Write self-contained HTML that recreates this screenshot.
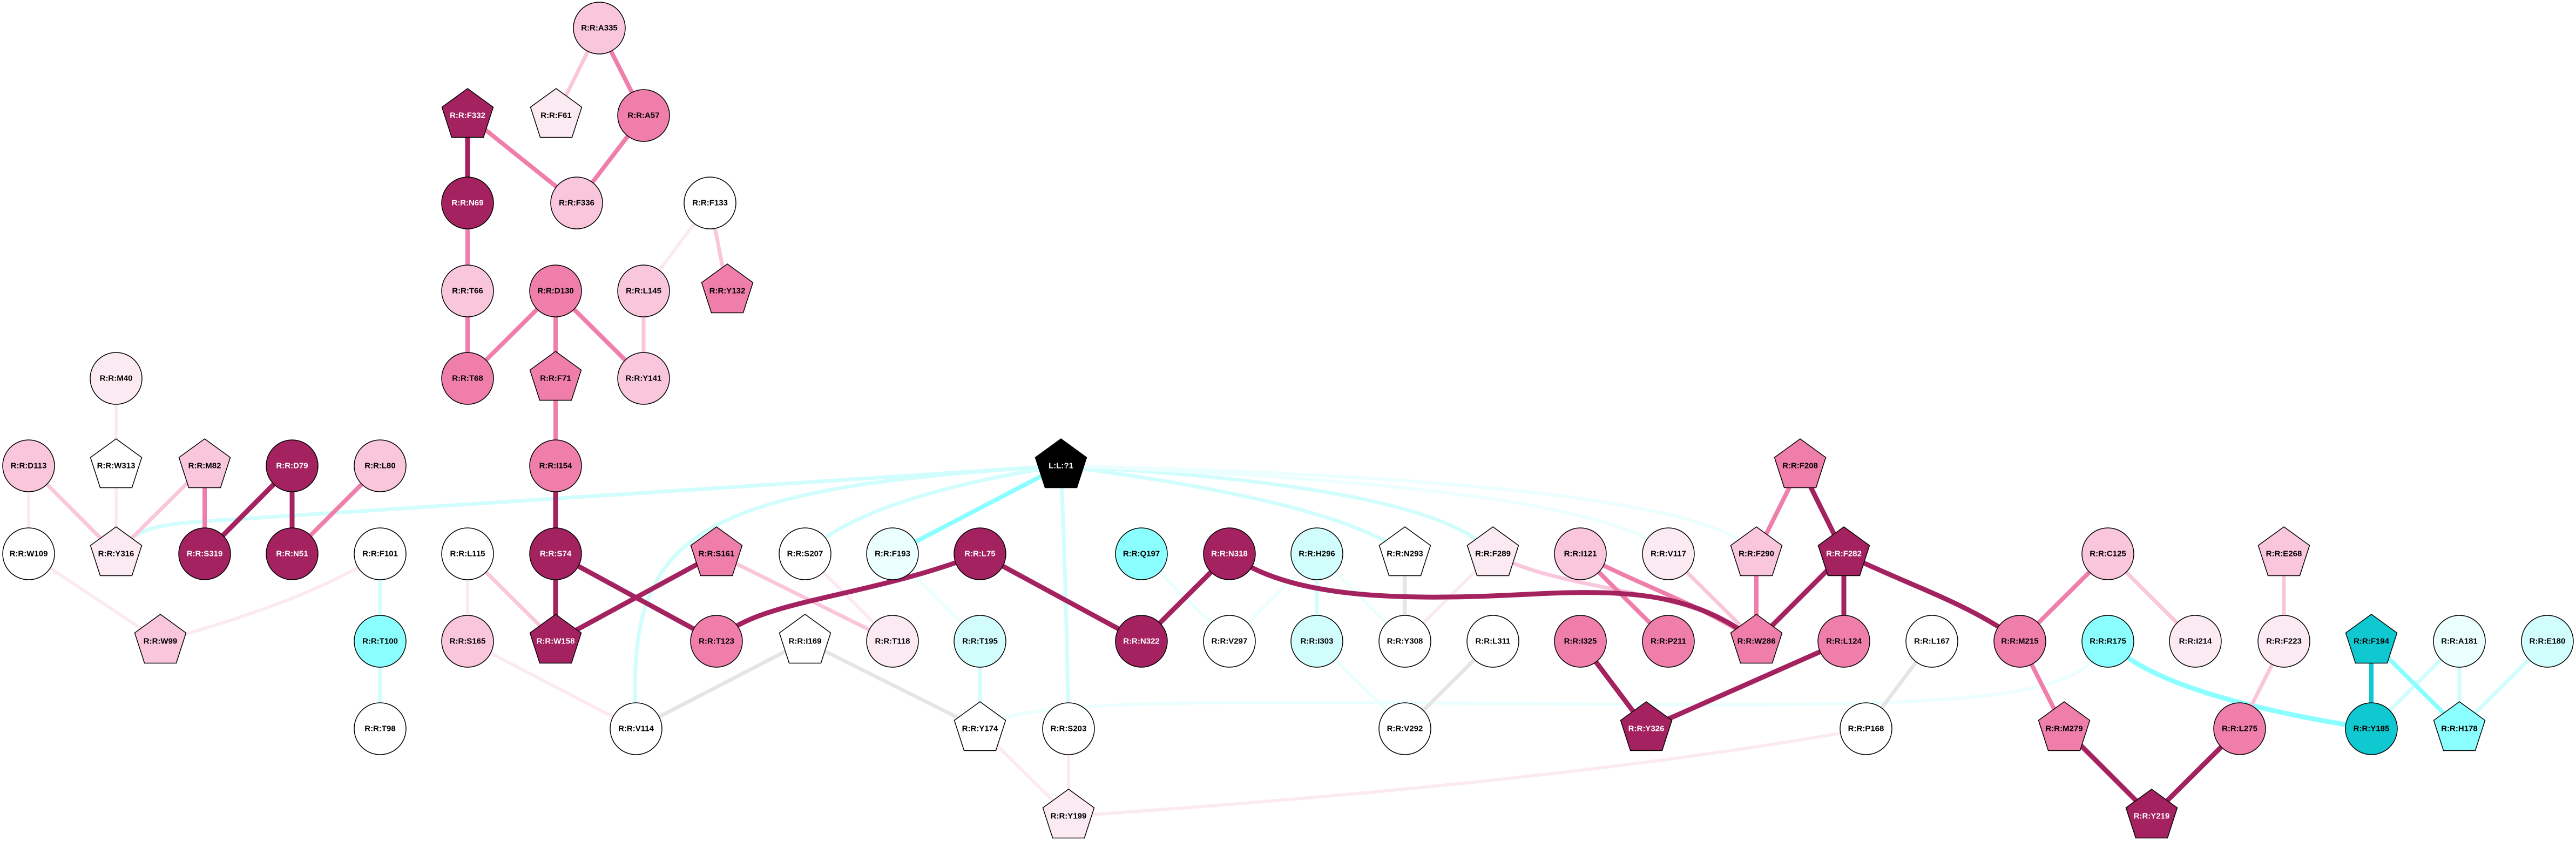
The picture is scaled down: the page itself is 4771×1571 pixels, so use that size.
<!DOCTYPE html>
<html><head><meta charset="utf-8"><style>
html,body{margin:0;padding:0;background:#fff}
svg{display:block}
text{font-family:"Liberation Sans",sans-serif;font-weight:bold;font-size:15px;text-anchor:middle;dominant-baseline:central}
</style></head><body>
<svg width="4771" height="1571" viewBox="0 0 4771 1571" xmlns="http://www.w3.org/2000/svg">
<defs>
<path id="pg" d="M0,-50 L47.5,-15.5 L29.4,40.5 L-29.4,40.5 L-47.5,-15.5 Z"/>
</defs>
<g fill="none" stroke-linecap="butt">
<!-- light cyan curves from L?1 -->
<g stroke="#d2fdfd" stroke-width="7">
<path d="M215,1026 C250,975 300,970 420,963 L1965,863"/>
<path d="M1178,1350 C1160,1000 1250,905 1965,863"/>
<path d="M1491,1026 Q1600,920 1965,863"/>
<path d="M1965,863 Q1975,1100 1979,1350"/>
<path d="M1965,863 Q2480,930 2602,1026"/>
<path d="M1965,863 Q2660,900 2765,1026"/>
<path d="M704,1026 L704,1350"/>
<path d="M2439,1026 L2439,1188"/>
<path d="M1815,1188 L1815,1350"/>
<path d="M4555,1188 L4555,1350"/>
<path d="M4555,1188 L4392,1350"/>
<path d="M4718,1188 L4555,1350"/>
</g>
<g stroke="#ecffff" stroke-width="6">
<path d="M1965,863 Q2970,900 3090,1026"/>
<path d="M1965,863 Q3150,890 3253,1026"/>
<path d="M1653,1026 L1815,1188"/>
<path d="M2114,1026 L2277,1188"/>
<path d="M2439,1026 L2277,1188"/>
<path d="M2439,1026 L2602,1188"/>
<path d="M2439,1188 L2602,1350"/>
<path d="M1815,1350 C1880,1290 2300,1300 3000,1305 S3850,1290 3904,1188"/>
</g>
<path d="M1965,863 L1653,1026" stroke="#8bffff" stroke-width="8"/>
<path d="M3904,1188 Q4000,1290 4392,1350" stroke="#8bffff" stroke-width="9"/>
<path d="M4392,1188 L4555,1350" stroke="#8bffff" stroke-width="8"/>
<path d="M4392,1188 L4392,1350" stroke="#10c8d0" stroke-width="8"/>
<!-- gray -->
<g stroke="#e5e5e5" stroke-width="7">
<path d="M1491,1188 L1178,1350"/>
<path d="M1491,1188 L1815,1350"/>
<path d="M2602,1026 L2602,1188"/>
<path d="M2765,1188 L2602,1350"/>
<path d="M3578,1188 L3456,1350"/>
</g>
<!-- very light pink -->
<g stroke="#fceaf2" stroke-width="6">
<path d="M1315,376 L1192,539"/>
<path d="M866,1026 L866,1188"/>
<path d="M866,1188 L1178,1350"/>
<path d="M215,701 L215,863"/>
<path d="M215,863 L215,1026"/>
<path d="M53,863 L53,1026"/>
<path d="M53,1026 L297,1188"/>
<path d="M704,1026 Q580,1110 297,1188"/>
<path d="M1491,1026 L1653,1188"/>
<path d="M1815,1350 L1979,1512"/>
<path d="M1979,1350 L1979,1512"/>
<path d="M1979,1512 Q2900,1450 3456,1350"/>
<path d="M2765,1026 L2602,1188"/>
</g>
<!-- light pink -->
<g stroke="#f9c6dc" stroke-width="7">
<path d="M1110,52 L1030,214"/>
<path d="M1315,376 L1347,539"/>
<path d="M1192,539 L1192,701"/>
<path d="M1327,1026 L1653,1188"/>
<path d="M866,1026 L1029,1188"/>
<path d="M53,863 L215,1026"/>
<path d="M379,863 L215,1026"/>
<path d="M2765,1026 C2900,1100 3150,1090 3253,1188"/>
<path d="M3090,1026 L3253,1188"/>
<path d="M3904,1026 L4066,1188"/>
<path d="M4230,1026 L4230,1188"/>
<path d="M4230,1188 L4148,1350"/>
</g>
<!-- medium pink -->
<g stroke="#f07eab" stroke-width="8">
<path d="M1110,52 L1192,214"/>
<path d="M1192,214 L1068,376"/>
<path d="M866,214 L1068,376"/>
<path d="M866,376 L866,539"/>
<path d="M866,539 L866,701"/>
<path d="M1029,539 L866,701"/>
<path d="M1029,539 L1029,701"/>
<path d="M1029,539 L1192,701"/>
<path d="M1029,701 L1029,863"/>
<path d="M379,863 L379,1026"/>
<path d="M704,863 L541,1026"/>
<path d="M2927,1026 L3090,1188"/>
<path d="M2927,1026 C3050,1090 3150,1120 3253,1188"/>
<path d="M3334,863 L3253,1026"/>
<path d="M3253,1026 L3253,1188"/>
<path d="M3904,1026 L3741,1188"/>
<path d="M3741,1188 L3823,1350"/>
</g>
<!-- dark -->
<g stroke="#a3225f" stroke-width="9">
<path d="M866,214 L866,376"/>
<path d="M1029,863 L1029,1026"/>
<path d="M1029,1026 L1029,1188"/>
<path d="M1029,1026 L1327,1188"/>
<path d="M1327,1026 L1029,1188"/>
<path d="M541,863 L379,1026"/>
<path d="M541,863 L541,1026"/>
<path d="M1327,1188 C1400,1110 1600,1110 1815,1026"/>
<path d="M1815,1026 L2114,1188"/>
<path d="M2277,1026 L2114,1188"/>
<path d="M2277,1026 C2400,1120 2650,1110 2850,1100 C3050,1090 3150,1110 3253,1188"/>
<path d="M2927,1188 L3049,1350"/>
<path d="M3049,1350 L3415,1188"/>
<path d="M3334,863 L3415,1026"/>
<path d="M3415,1026 L3253,1188"/>
<path d="M3415,1026 L3415,1188"/>
<path d="M3415,1026 C3550,1090 3650,1120 3741,1188"/>
<path d="M3823,1350 L3985,1512"/>
<path d="M4148,1350 L3985,1512"/>
</g>
</g>
<!-- nodes -->
<g stroke="#000" stroke-width="1.5">
<!-- circles -->
<circle cx="1110" cy="52" r="48" fill="#f9c6dc"/>
<circle cx="1192" cy="214" r="48" fill="#f07eab"/>
<circle cx="866" cy="376" r="48" fill="#a3225f"/>
<circle cx="1068" cy="376" r="48" fill="#f9c6dc"/>
<circle cx="1315" cy="376" r="48" fill="#fff"/>
<circle cx="866" cy="539" r="48" fill="#f9c6dc"/>
<circle cx="1029" cy="539" r="48" fill="#f07eab"/>
<circle cx="1192" cy="539" r="48" fill="#f9c6dc"/>
<circle cx="866" cy="701" r="48" fill="#f07eab"/>
<circle cx="1192" cy="701" r="48" fill="#f9c6dc"/>
<circle cx="215" cy="701" r="48" fill="#fceaf2"/>
<circle cx="53" cy="863" r="48" fill="#f9c6dc"/>
<circle cx="541" cy="863" r="48" fill="#a3225f"/>
<circle cx="704" cy="863" r="48" fill="#f9c6dc"/>
<circle cx="1029" cy="863" r="48" fill="#f07eab"/>
<circle cx="53" cy="1026" r="48" fill="#fff"/>
<circle cx="379" cy="1026" r="48" fill="#a3225f"/>
<circle cx="541" cy="1026" r="48" fill="#a3225f"/>
<circle cx="704" cy="1026" r="48" fill="#fff"/>
<circle cx="866" cy="1026" r="48" fill="#fff"/>
<circle cx="1029" cy="1026" r="48" fill="#a3225f"/>
<circle cx="1491" cy="1026" r="48" fill="#fff"/>
<circle cx="704" cy="1188" r="48" fill="#8bffff"/>
<circle cx="866" cy="1188" r="48" fill="#f9c6dc"/>
<circle cx="1327" cy="1188" r="48" fill="#f07eab"/>
<circle cx="704" cy="1350" r="48" fill="#fff"/>
<circle cx="1178" cy="1350" r="48" fill="#fff"/>
<circle cx="1653" cy="1026" r="48" fill="#ecffff"/>
<circle cx="1815" cy="1026" r="48" fill="#a3225f"/>
<circle cx="2114" cy="1026" r="48" fill="#8bffff"/>
<circle cx="2277" cy="1026" r="48" fill="#a3225f"/>
<circle cx="2439" cy="1026" r="48" fill="#d2fdfd"/>
<circle cx="2927" cy="1026" r="48" fill="#f9c6dc"/>
<circle cx="3090" cy="1026" r="48" fill="#fceaf2"/>
<circle cx="1653" cy="1188" r="48" fill="#fceaf2"/>
<circle cx="1815" cy="1188" r="48" fill="#d2fdfd"/>
<circle cx="2114" cy="1188" r="48" fill="#a3225f"/>
<circle cx="2277" cy="1188" r="48" fill="#fff"/>
<circle cx="2439" cy="1188" r="48" fill="#d2fdfd"/>
<circle cx="2602" cy="1188" r="48" fill="#fff"/>
<circle cx="2765" cy="1188" r="48" fill="#fff"/>
<circle cx="2927" cy="1188" r="48" fill="#f07eab"/>
<circle cx="3090" cy="1188" r="48" fill="#f07eab"/>
<circle cx="1979" cy="1350" r="48" fill="#fff"/>
<circle cx="2602" cy="1350" r="48" fill="#fff"/>
<circle cx="3904" cy="1026" r="48" fill="#f9c6dc"/>
<circle cx="3415" cy="1188" r="48" fill="#f07eab"/>
<circle cx="3578" cy="1188" r="48" fill="#fff"/>
<circle cx="3741" cy="1188" r="48" fill="#f07eab"/>
<circle cx="3904" cy="1188" r="48" fill="#8bffff"/>
<circle cx="4066" cy="1188" r="48" fill="#fceaf2"/>
<circle cx="4230" cy="1188" r="48" fill="#fceaf2"/>
<circle cx="4555" cy="1188" r="48" fill="#ecffff"/>
<circle cx="4718" cy="1188" r="48" fill="#d2fdfd"/>
<circle cx="3456" cy="1350" r="48" fill="#fff"/>
<circle cx="4148" cy="1350" r="48" fill="#f07eab"/>
<circle cx="4392" cy="1350" r="48" fill="#10c8d0"/>
<!-- pentagons -->
<use href="#pg" x="1030" y="214" fill="#fceaf2"/>
<use href="#pg" x="866" y="214" fill="#a3225f"/>
<use href="#pg" x="1347" y="539" fill="#f07eab"/>
<use href="#pg" x="1029" y="701" fill="#f07eab"/>
<use href="#pg" x="215" y="863" fill="#fff"/>
<use href="#pg" x="379" y="863" fill="#f9c6dc"/>
<use href="#pg" x="215" y="1026" fill="#fceaf2"/>
<use href="#pg" x="1327" y="1026" fill="#f07eab"/>
<use href="#pg" x="297" y="1188" fill="#f9c6dc"/>
<use href="#pg" x="1029" y="1188" fill="#a3225f"/>
<use href="#pg" x="1491" y="1188" fill="#fff"/>
<use href="#pg" x="1965" y="863" fill="#000"/>
<use href="#pg" x="2602" y="1026" fill="#fff"/>
<use href="#pg" x="2765" y="1026" fill="#fceaf2"/>
<use href="#pg" x="1815" y="1350" fill="#fff"/>
<use href="#pg" x="3049" y="1350" fill="#a3225f"/>
<use href="#pg" x="1979" y="1512" fill="#fceaf2"/>
<use href="#pg" x="3334" y="863" fill="#f07eab"/>
<use href="#pg" x="3253" y="1026" fill="#f9c6dc"/>
<use href="#pg" x="3415" y="1026" fill="#a3225f"/>
<use href="#pg" x="4230" y="1026" fill="#f9c6dc"/>
<use href="#pg" x="3253" y="1188" fill="#f07eab"/>
<use href="#pg" x="4392" y="1188" fill="#10c8d0"/>
<use href="#pg" x="3823" y="1350" fill="#f07eab"/>
<use href="#pg" x="4555" y="1350" fill="#8bffff"/>
<use href="#pg" x="3985" y="1512" fill="#a3225f"/>
</g>
<!-- labels -->
<g fill="#000">
<text x="1110" y="52">R:R:A335</text>
<text x="1192" y="214">R:R:A57</text>
<text x="1068" y="376">R:R:F336</text>
<text x="1315" y="376">R:R:F133</text>
<text x="866" y="539">R:R:T66</text>
<text x="1029" y="539">R:R:D130</text>
<text x="1192" y="539">R:R:L145</text>
<text x="866" y="701">R:R:T68</text>
<text x="1192" y="701">R:R:Y141</text>
<text x="215" y="701">R:R:M40</text>
<text x="53" y="863">R:R:D113</text>
<text x="704" y="863">R:R:L80</text>
<text x="1029" y="863">R:R:I154</text>
<text x="53" y="1026">R:R:W109</text>
<text x="704" y="1026">R:R:F101</text>
<text x="866" y="1026">R:R:L115</text>
<text x="1491" y="1026">R:R:S207</text>
<text x="704" y="1188">R:R:T100</text>
<text x="866" y="1188">R:R:S165</text>
<text x="1327" y="1188">R:R:T123</text>
<text x="704" y="1350">R:R:T98</text>
<text x="1178" y="1350">R:R:V114</text>
<text x="1653" y="1026">R:R:F193</text>
<text x="2114" y="1026">R:R:Q197</text>
<text x="2439" y="1026">R:R:H296</text>
<text x="2927" y="1026">R:R:I121</text>
<text x="3090" y="1026">R:R:V117</text>
<text x="1653" y="1188">R:R:T118</text>
<text x="1815" y="1188">R:R:T195</text>
<text x="2277" y="1188">R:R:V297</text>
<text x="2439" y="1188">R:R:I303</text>
<text x="2602" y="1188">R:R:Y308</text>
<text x="2765" y="1188">R:R:L311</text>
<text x="2927" y="1188">R:R:I325</text>
<text x="3090" y="1188">R:R:P211</text>
<text x="1979" y="1350">R:R:S203</text>
<text x="2602" y="1350">R:R:V292</text>
<text x="3904" y="1026">R:R:C125</text>
<text x="3415" y="1188">R:R:L124</text>
<text x="3578" y="1188">R:R:L167</text>
<text x="3741" y="1188">R:R:M215</text>
<text x="3904" y="1188">R:R:R175</text>
<text x="4066" y="1188">R:R:I214</text>
<text x="4230" y="1188">R:R:F223</text>
<text x="4555" y="1188">R:R:A181</text>
<text x="4718" y="1188">R:R:E180</text>
<text x="3456" y="1350">R:R:P168</text>
<text x="4148" y="1350">R:R:L275</text>
<text x="4392" y="1350">R:R:Y185</text>
<text x="1030" y="214">R:R:F61</text>
<text x="1347" y="539">R:R:Y132</text>
<text x="1029" y="701">R:R:F71</text>
<text x="215" y="863">R:R:W313</text>
<text x="379" y="863">R:R:M82</text>
<text x="215" y="1026">R:R:Y316</text>
<text x="1327" y="1026">R:R:S161</text>
<text x="297" y="1188">R:R:W99</text>
<text x="1491" y="1188">R:R:I169</text>
<text x="2602" y="1026">R:R:N293</text>
<text x="2765" y="1026">R:R:F289</text>
<text x="1815" y="1350">R:R:Y174</text>
<text x="1979" y="1512">R:R:Y199</text>
<text x="3334" y="863">R:R:F208</text>
<text x="3253" y="1026">R:R:F290</text>
<text x="4230" y="1026">R:R:E268</text>
<text x="3253" y="1188">R:R:W286</text>
<text x="4392" y="1188">R:R:F194</text>
<text x="3823" y="1350">R:R:M279</text>
<text x="4555" y="1350">R:R:H178</text>
</g>
<g fill="#fff">
<text x="866" y="376">R:R:N69</text>
<text x="866" y="214">R:R:F332</text>
<text x="541" y="863">R:R:D79</text>
<text x="379" y="1026">R:R:S319</text>
<text x="541" y="1026">R:R:N51</text>
<text x="1029" y="1026">R:R:S74</text>
<text x="1029" y="1188">R:R:W158</text>
<text x="1815" y="1026">R:R:L75</text>
<text x="2277" y="1026">R:R:N318</text>
<text x="2114" y="1188">R:R:N322</text>
<text x="3049" y="1350">R:R:Y326</text>
<text x="3415" y="1026">R:R:F282</text>
<text x="3985" y="1512">R:R:Y219</text>
<text x="1965" y="863">L:L:?1</text>
</g>
</svg>
</body></html>
